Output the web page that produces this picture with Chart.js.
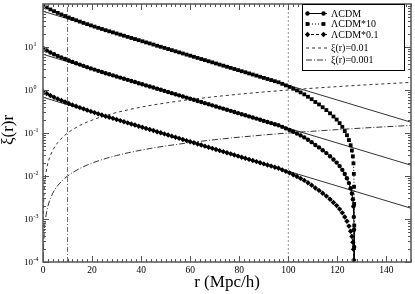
<!DOCTYPE html>
<html>
<head>
<meta charset="utf-8">
<title>xi(r) r</title>
<script src="https://cdn.jsdelivr.net/npm/chart.js@4"></script>
<style>
  html, body { margin: 0; padding: 0; background: #fff; }
  #chart { display: block; }
</style>
</head>
<body>
<canvas id="chart" width="415" height="294"></canvas>
<script>
// r grid shared by the three model curves (Mpc/h)
const rGrid = [0,1.5,3,4.5,6,7.5,9,10.5,12,13.5,15,16.5,18,19.5,21,22.5,24,25.5,27,28.5,
  30,31.5,33,34.5,36,37.5,39,40.5,42,43.5,45,46.5,48,49.5,51,52.5,54,55.5,57,58.5,
  60,61.5,63,64.5,66,67.5,69,70.5,72,73.5,75,76.5,78,79.5,81,82.5,84,85.5,87,88.5,
  90,91.5,93,94.5,96,97.5,99,100.5,102,103.5,105,106.5,108,109.5,111,112.5,114,115.5,117,
  118.4,119.7,120.9,122.0,123.0,123.9,124.7,125.4,125.9,126.3,126.55,126.7,126.78,126.83,126.86,126.9];

// xi(r) r
const lcdm = [9.33,8.30,7.47,6.80,6.21,5.70,5.25,4.86,4.50,4.19,
  3.90,3.64,3.40,3.18,2.98,2.79,2.62,2.46,2.32,2.19,
  2.06,1.94,1.83,1.72,1.62,1.53,1.44,1.36,1.28,1.21,
  1.14,1.07,1.01,0.952,0.897,0.845,0.796,0.750,0.707,0.666,
  0.628,0.592,0.557,0.525,0.495,0.467,0.440,0.414,0.390,0.368,
  0.347,0.327,0.308,0.290,0.273,0.258,0.243,0.229,0.216,0.203,
  0.191,0.180,0.170,0.160,0.151,0.139,0.128,0.118,0.107,0.0977,
  0.0879,0.0791,0.0696,0.0612,0.0526,0.0462,0.0397,0.0341,0.0287,
  0.0242,0.0205,0.0170,0.0139,0.0111,0.00889,0.00684,0.00517,0.00393,0.00287,
  0.00197,0.00112,0.000562,0.000223,0.0000705,0.0000001];

const lcdm10 = [93.3,83.0,74.7,68.0,62.1,57.0,52.5,48.6,45.0,41.9,
  39.0,36.4,34.0,31.8,29.8,27.9,26.2,24.6,23.2,21.9,
  20.6,19.4,18.3,17.2,16.2,15.3,14.4,13.6,12.8,12.1,
  11.4,10.7,10.1,9.52,8.97,8.45,7.96,7.50,7.07,6.66,
  6.28,5.92,5.57,5.25,4.95,4.67,4.40,4.14,3.90,3.68,
  3.47,3.27,3.08,2.90,2.73,2.58,2.43,2.29,2.16,2.03,
  1.91,1.80,1.70,1.60,1.51,1.39,1.28,1.18,1.07,0.977,
  0.879,0.791,0.696,0.612,0.526,0.462,0.397,0.341,0.287,
  0.242,0.205,0.170,0.139,0.111,0.0889,0.0684,0.0517,0.0393,0.0287,
  0.0197,0.0112,0.00562,0.00223,0.000705,0.000001];

const lcdm01 = [0.933,0.830,0.747,0.680,0.621,0.570,0.525,0.486,0.450,0.419,
  0.390,0.364,0.340,0.318,0.298,0.279,0.262,0.246,0.232,0.219,
  0.206,0.194,0.183,0.172,0.162,0.153,0.144,0.136,0.128,0.121,
  0.114,0.107,0.101,0.0952,0.0897,0.0845,0.0796,0.0750,0.0707,0.0666,
  0.0628,0.0592,0.0557,0.0525,0.0495,0.0467,0.0440,0.0414,0.0390,0.0368,
  0.0347,0.0327,0.0308,0.0290,0.0273,0.0258,0.0243,0.0229,0.0216,0.0203,
  0.0191,0.0180,0.0170,0.0160,0.0151,0.0139,0.0128,0.0118,0.0107,0.00977,
  0.00879,0.00791,0.00696,0.00612,0.00526,0.00462,0.00397,0.00341,0.00287,
  0.00242,0.00205,0.00170,0.00139,0.00111,0.000889,0.000684,0.000517,0.000393,0.000287,
  0.000197,0.000112,0.0000562,0.0000223,0.00000705,0.00000001];

// thin straight fits (exponential, straight on the log axis)
const fitR = [0, 150];
const fit10 = [67.6, 0.178];
const fit1 = [6.76, 0.0178];
const fit01 = [0.676, 0.00178];

// constant xi lines, xi(r) r
const xiR = [0.01,0.05,0.1,0.2,0.3,0.5,0.75,1,1.5,2,2.5,3,4,5,6,8,10,12,15,18,
  22,26,30,35,40,45,50,60,70,80,90,100,110,120,130,140,150];
const xi001 = [0.0001,0.0005,0.001,0.002,0.003,0.005,0.0075,0.01,0.015,0.02,0.025,0.03,0.04,0.05,0.06,0.08,0.1,0.12,0.15,0.18,
  0.22,0.26,0.3,0.35,0.4,0.45,0.5,0.6,0.7,0.8,0.9,1,1.1,1.2,1.3,1.4,1.5];
const xi0001 = [0.00001,0.00005,0.0001,0.0002,0.0003,0.0005,0.00075,0.001,0.0015,0.002,0.0025,0.003,0.004,0.005,0.006,0.008,0.01,0.012,0.015,0.018,
  0.022,0.026,0.03,0.035,0.04,0.045,0.05,0.06,0.07,0.08,0.09,0.1,0.11,0.12,0.13,0.14,0.15];

// vertical marker lines and axis ranges
const markR = [10, 100];
const xRange = [0, 150];
const yRange = [1e-4, 100];
const xTickLabels = ['0','20','40','60','80','100','120','140'];
const yTickExp = ['-4','-3','-2','-1','0','1'];
const legendLabels = ['\u039BCDM', '\u039BCDM*10', '\u039BCDM*0.1', '\u03BE(r)=0.01', '\u03BE(r)=0.001'];

const SERIF = '"Liberation Serif", "DejaVu Serif", serif';

function pts(xs, ys) {
  return xs.map((x, i) => ({ x: x, y: ys[i] }));
}

function dot(ctx, style, x, y) {
  ctx.beginPath();
  if (style === 'circle') {
    ctx.arc(x, y, 2.2, 0, Math.PI * 2);
  } else if (style === 'rect') {
    ctx.rect(x - 1.9, y - 1.9, 3.8, 3.8);
  } else {
    ctx.moveTo(x, y - 2.7); ctx.lineTo(x + 2.7, y); ctx.lineTo(x, y + 2.7); ctx.lineTo(x - 2.7, y);
    ctx.closePath();
  }
  ctx.fill();
}

// frame, inward ticks, tick labels and axis titles
const axesPlugin = {
  id: 'axesPlugin',
  afterDatasetsDraw(chart) {
    const ctx = chart.ctx, a = chart.chartArea;
    const xs = chart.scales.x, ys = chart.scales.y;
    ctx.save();
    ctx.strokeStyle = '#555';
    ctx.lineWidth = 1;
    ctx.beginPath();
    for (let v = xRange[0]; v <= xRange[1]; v += 2) {
      const px = Math.round(xs.getPixelForValue(v)) + 0.5;
      const len = v % 20 === 0 ? 6 : 3;
      ctx.moveTo(px, a.bottom); ctx.lineTo(px, a.bottom - len);
      ctx.moveTo(px, a.top); ctx.lineTo(px, a.top + len);
    }
    for (let e = -4; e < 2; e++) {
      for (let m = 1; m < 10; m++) {
        const py = Math.round(ys.getPixelForValue(m * Math.pow(10, e))) + 0.5;
        const len = m === 1 ? 6 : 3;
        ctx.moveTo(a.left, py); ctx.lineTo(a.left + len, py);
        ctx.moveTo(a.right, py); ctx.lineTo(a.right - len, py);
      }
    }
    ctx.stroke();
    ctx.lineWidth = 1.5;
    ctx.strokeRect(a.left, a.top, a.right - a.left, a.bottom - a.top);

    ctx.fillStyle = '#000';
    // x tick labels
    ctx.font = '9.5px ' + SERIF;
    ctx.textAlign = 'center';
    ctx.textBaseline = 'middle';
    xTickLabels.forEach(t => {
      ctx.fillText(t, xs.getPixelForValue(Number(t)), a.bottom + 8);
    });
    // y tick labels 10^n
    yTickExp.forEach(t => {
      const py = ys.getPixelForValue(Math.pow(10, Number(t)));
      ctx.font = '9px ' + SERIF;
      ctx.textAlign = 'right';
      ctx.textBaseline = 'middle';
      ctx.fillText('10', a.left - 10, py + 1);
      ctx.font = '6px ' + SERIF;
      ctx.textAlign = 'left';
      ctx.fillText(t, a.left - 9.5, py - 3);
    });
    // titles
    ctx.font = '17px ' + SERIF;
    ctx.textAlign = 'center';
    ctx.textBaseline = 'alphabetic';
    ctx.fillText('r (Mpc/h)', (a.left + a.right) / 2, 287);
    ctx.save();
    ctx.translate(13, (a.top + a.bottom) / 2 - 3);
    ctx.rotate(-Math.PI / 2);
    ctx.fillText('\u03BE(r)r', 0, 0);
    ctx.restore();
    ctx.restore();
  }
};

// boxed legend in the top right corner
const legendPlugin = {
  id: 'legendPlugin',
  afterDraw(chart) {
    const ctx = chart.ctx;
    const x0 = 302.5, y0 = 4.5, w = 102, h = 66;
    const rows = [13, 23.5, 34, 47.5, 59.5];
    const styles = [
      { dash: [], marker: 'circle', color: '#000' },
      { dash: [1, 2], marker: 'rect', color: '#000' },
      { dash: [3, 2], marker: 'diamond', color: '#000' },
      { dash: [3, 3], marker: null, color: '#333' },
      { dash: [6, 2, 1, 2], marker: null, color: '#333' }
    ];
    ctx.save();
    ctx.fillStyle = '#fff';
    ctx.fillRect(x0, y0, w, h);
    ctx.strokeStyle = '#000';
    ctx.lineWidth = 1;
    ctx.strokeRect(x0, y0, w, h);
    legendLabels.forEach((label, i) => {
      const y = rows[i], s = styles[i];
      ctx.strokeStyle = s.color;
      ctx.setLineDash(s.dash);
      ctx.beginPath();
      ctx.moveTo(306, y + 0.5); ctx.lineTo(327, y + 0.5);
      ctx.stroke();
      ctx.setLineDash([]);
      if (s.marker) {
        ctx.fillStyle = '#000';
        dot(ctx, s.marker, 307.5, y + 0.5);
        dot(ctx, s.marker, 323.5, y + 0.5);
      }
      ctx.fillStyle = '#000';
      ctx.font = '10px ' + SERIF;
      ctx.textAlign = 'left';
      ctx.textBaseline = 'middle';
      ctx.fillText(label, 331, y + 1);
    });
    ctx.restore();
  }
};

const curve = (data, dash, style, radius) => ({
  data: data,
  borderColor: '#000',
  borderWidth: 1,
  borderDash: dash,
  pointStyle: style,
  pointRadius: radius,
  pointBackgroundColor: '#000',
  pointBorderWidth: 0,
  fill: false
});

const thin = (data, color, dash, width) => ({
  data: data,
  borderColor: color,
  borderWidth: width || 1,
  borderDash: dash,
  pointRadius: 0,
  fill: false
});

const datasets = [
  curve(pts(rGrid, lcdm), [], 'circle', 2.2),
  curve(pts(rGrid, lcdm10), [1, 2], 'rect', 2.7),
  curve(pts(rGrid, lcdm01), [3, 2], 'rectRot', 2.7),
  thin(pts(fitR, fit10), '#333', []),
  thin(pts(fitR, fit1), '#333', []),
  thin(pts(fitR, fit01), '#333', []),
  thin(pts(xiR, xi001), '#333', [3, 3]),
  thin(pts(xiR, xi0001), '#333', [6, 2, 1, 2]),
  thin(pts([markR[0], markR[0]], yRange), '#444', [5, 2, 1, 2], 0.8),
  thin(pts([markR[1], markR[1]], yRange), '#999', [2, 2])
];

new Chart(document.getElementById('chart'), {
  type: 'line',
  data: { datasets: datasets },
  options: {
    responsive: false,
    animation: false,
    devicePixelRatio: 1,
    layout: { padding: { top: 1, right: 3, left: 0, bottom: 0 } },
    plugins: { legend: { display: false }, tooltip: { enabled: false } },
    elements: { line: { tension: 0 } },
    scales: {
      x: {
        type: 'linear', min: xRange[0], max: xRange[1],
        grid: { display: false }, border: { display: false }, ticks: { display: false },
        afterFit(s) { s.height = 32; }
      },
      y: {
        type: 'logarithmic', min: yRange[0], max: yRange[1],
        grid: { display: false }, border: { display: false }, ticks: { display: false },
        afterFit(s) { s.width = 43; }
      }
    }
  },
  plugins: [axesPlugin, legendPlugin]
});
</script>
</body>
</html>
